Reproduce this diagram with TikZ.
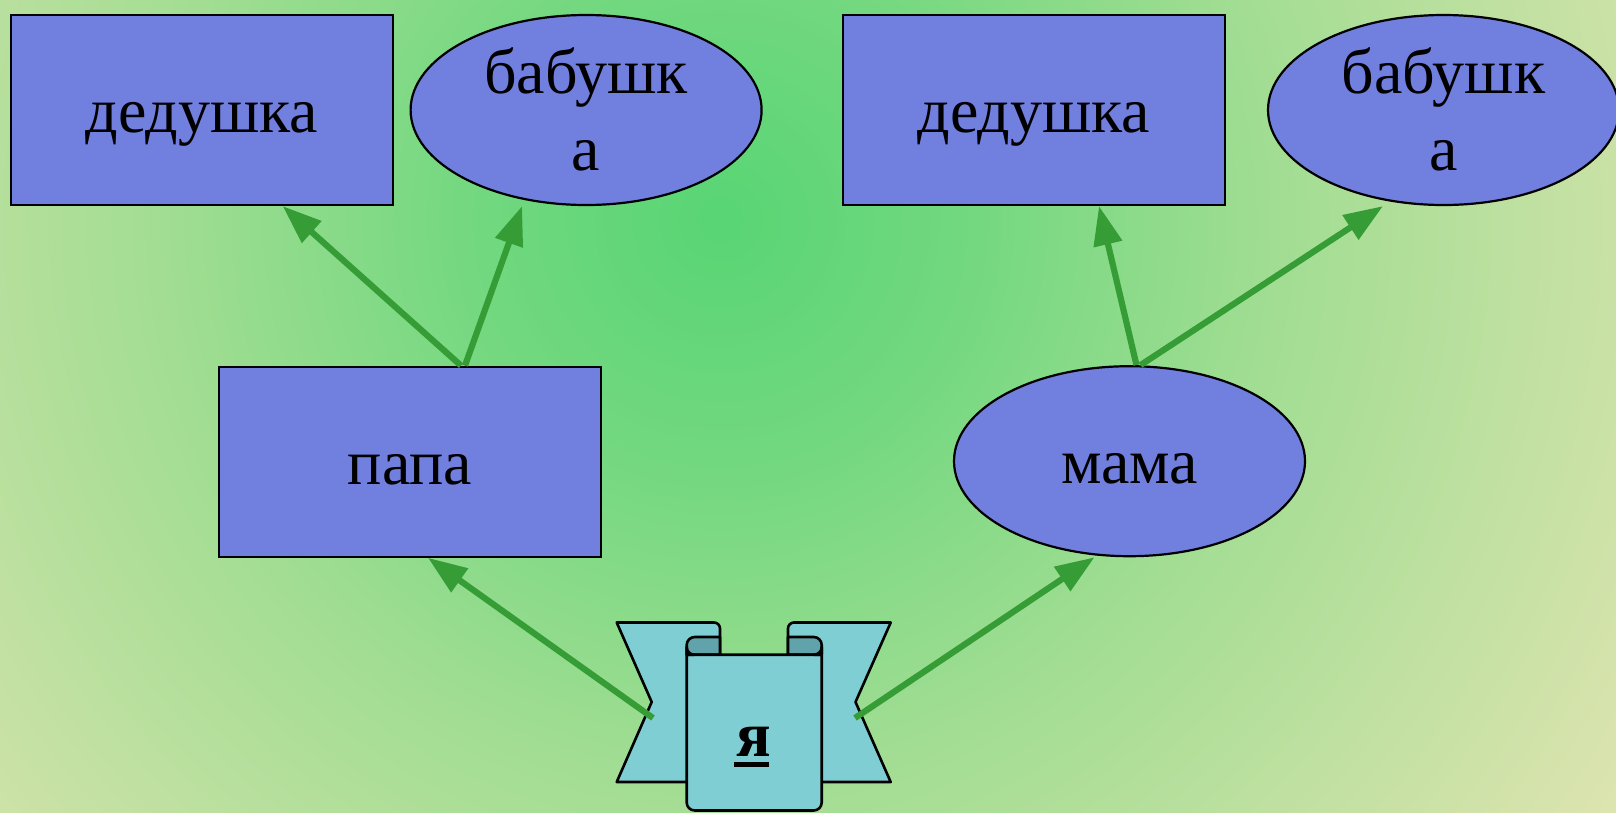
\documentclass[tikz,border=0pt]{standalone}
\usepackage{fontspec}
\setmainfont{Liberation Serif}
\usepackage{tikz}
\usetikzlibrary{arrows.meta,shapes.geometric}

\definecolor{kinblue}{RGB}{113,127,223}
\definecolor{scrollcyan}{RGB}{126,206,212}
\definecolor{scrolldark}{RGB}{96,163,170}
\definecolor{kinlink}{RGB}{54,157,54}
\definecolor{glowA}{RGB}{88,213,116}
\definecolor{glowB}{RGB}{115,216,128}
\definecolor{glowC}{RGB}{160,221,146}
\definecolor{glowD}{RGB}{190,224,160}
\definecolor{glowE}{RGB}{222,228,176}
\pgfdeclareradialshading{bgglow}{\pgfpointorigin}{color(0bp)=(glowA); color(3bp)=(glowB); color(6.5bp)=(glowC); color(9.5bp)=(glowD); color(12.85bp)=(glowE); color(50bp)=(glowE)}

\newcommand\twolines[2]{\vbox{\halign{\hfil##\hfil\cr#1\cr#2\cr}}}
\newcommand\ulbold[1]{\rlap{\kern-2.5pt\rule[-10pt]{35pt}{5pt}}#1}

\begin{document}
\begin{tikzpicture}[x=1pt,y=-1pt,
    kin/.style={fill=kinblue,draw=black,line width=2.2pt,inner sep=2pt,
      font=\fontsize{64}{77}\selectfont,text height=45.4pt,text depth=0pt},
    boxnode/.style={kin,rectangle,minimum width=382pt,minimum height=190pt},
    ovalnode/.style={kin,ellipse,minimum width=351pt,minimum height=190pt},
    twoline/.style={text height=120pt,text depth=0pt},
    flap/.style={fill=scrollcyan,draw=black,line width=2.6pt,line join=round},
    curl/.style={fill=scrolldark,draw=black,line width=2.6pt,line join=round},
    metext/.style={anchor=base,inner sep=0pt,font=\fontsize{64}{77}\selectfont\bfseries},
    link/.style={draw,color=kinlink,line width=6.2pt,-{Triangle[length=39pt,width=28pt]}}]

  \useasboundingbox (0,0) rectangle (1616,812);
  \begin{scope}
    \clip (0,0) rectangle (1616,812);
    \shade[shading=bgglow] (720,220) circle[radius=2100pt];
  \end{scope}

  \draw[flap] (720,654.7) -- (720,628.5) arc[start angle=0,end angle=90,radius=6pt] -- (616.7,622.5) -- (651.7,702) -- (616.7,782) -- (686.7,782) -- cycle;
  \draw[flap] (788,654.7) -- (788,628.5) arc[start angle=180,end angle=90,radius=6pt] -- (890.7,622.5) -- (855.5,702) -- (890.7,782) -- (821.7,782) -- cycle;
  \draw[curl] (686.7,654.7) -- (686.7,645) arc[start angle=180,end angle=90,radius=8pt] -- (720,637) -- (720,654.7) -- cycle;
  \draw[curl] (821.7,654.7) -- (821.7,645) arc[start angle=0,end angle=90,radius=8pt] -- (788,637) -- (788,654.7) -- cycle;
  \draw[flap] (686.7,654.7) -- (686.7,802.5) arc[start angle=180,end angle=270,radius=8pt] -- (813.7,810.5) arc[start angle=270,end angle=360,radius=8pt] -- (821.7,654.7) -- cycle;
  \draw[flap] (686.7,647) arc[start angle=180,end angle=270,radius=7.7pt] -- (686.7,654.7) -- cycle;
  \draw[flap] (821.7,647) arc[start angle=0,end angle=-90,radius=7.7pt] -- (821.7,654.7) -- cycle;

  \draw (201.7,110) node[boxnode] (dedL) {дедушка};
  \draw (586.1,110) node[ovalnode,twoline] (babL) {\twolines{бабушк}{а}};
  \draw (1034,110) node[boxnode] (dedR) {дедушка};
  \draw (1443.5,110) node[ovalnode,twoline] (babR) {\twolines{бабушк}{а}};
  \draw (410,461.7) node[boxnode] (papa) {папа};
  \draw (1129.5,461.2) node[ovalnode] (mama) {мама};
  \draw (754.2,756.7) node[metext] (me) {\ulbold{я}};
  \coordinate (meL) at (653,718);
  \coordinate (meR) at (855,718);

  \path ([xshift=51pt]papa.north) edge[link] ([xshift=81pt]dedL.south);
  \path ([xshift=55pt]papa.north) edge[link] ([xshift=-64pt]babL.south);
  \path ([xshift=7pt]mama.north) edge[link] ([xshift=65pt]dedR.south);
  \path ([xshift=11pt]mama.north) edge[link] ([xshift=-60.5pt]babR.south);
  \path (meL) edge[link] ([xshift=18pt]papa.south);
  \path (meR) edge[link] ([xshift=-35pt]mama.south);
\end{tikzpicture}
\end{document}
